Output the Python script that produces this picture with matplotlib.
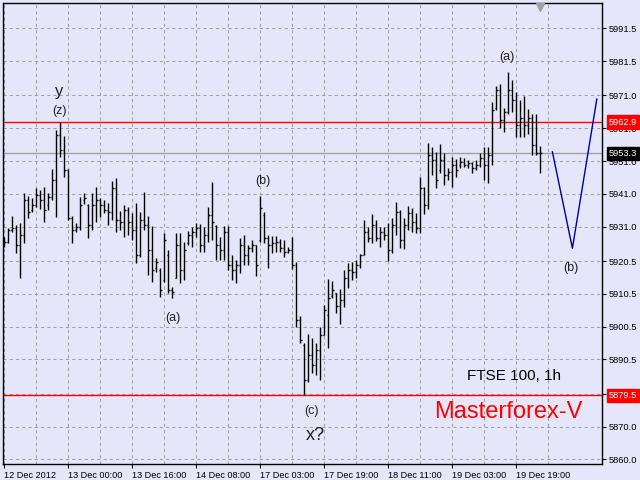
import numpy as np
import matplotlib
matplotlib.use('Agg')
import matplotlib.pyplot as plt
from matplotlib.transforms import blended_transform_factory

# FTSE 100, 1h bars
high = [5927.8, 5930.6, 5934.2, 5931.5, 5932.1, 5941.2, 5940.3, 5939.7, 5942.8, 5942.2,
        5943.1, 5941.2, 5948.6, 5960.5, 5962.9, 5958.6, 5948.6, 5934.2, 5932.1, 5940.0,
        5941.2, 5937.9, 5941.2, 5943.1, 5939.7, 5939.1, 5938.2, 5944.9, 5945.8, 5935.8,
        5937.6, 5937.0, 5935.1, 5938.2, 5935.4, 5941.6, 5934.2, 5931.2, 5921.4, 5918.4,
        5929.0, 5923.9, 5912.6, 5929.0, 5929.0, 5926.3, 5929.7, 5930.9, 5932.1, 5931.8,
        5930.9, 5937.0, 5944.6, 5931.5, 5927.8, 5931.2, 5931.2, 5922.3, 5920.8, 5927.5,
        5928.4, 5925.4, 5926.9, 5925.4, 5940.3, 5935.4, 5928.4, 5928.1, 5928.1, 5927.2,
        5926.9, 5924.8, 5927.8, 5920.2, 5903.7, 5895.5, 5898.2, 5897.0, 5895.5, 5900.4,
        5907.1, 5915.0, 5914.4, 5910.7, 5912.0, 5917.8, 5919.9, 5920.2, 5920.8, 5922.6,
        5933.0, 5930.9, 5934.8, 5933.0, 5930.9, 5930.9, 5932.1, 5933.6, 5938.5, 5936.1,
        5933.6, 5937.3, 5936.7, 5935.1, 5946.1, 5943.1, 5956.5, 5955.3, 5953.7, 5956.2,
        5953.4, 5948.9, 5952.2, 5951.6, 5952.2, 5951.9, 5951.3, 5950.7, 5951.3, 5953.4,
        5955.3, 5955.3, 5969.0, 5973.9, 5974.5, 5967.2, 5978.1, 5975.7, 5972.0, 5969.6,
        5970.8, 5966.9, 5965.3, 5965.3, 5955.6]
low = [5924.8, 5926.0, 5929.3, 5922.9, 5915.3, 5926.0, 5933.6, 5935.4, 5937.0, 5936.4,
       5932.4, 5936.1, 5939.1, 5933.9, 5952.2, 5946.1, 5933.0, 5926.0, 5929.3, 5930.0,
       5937.9, 5927.5, 5930.0, 5932.4, 5933.9, 5935.1, 5931.5, 5933.0, 5929.3, 5930.0,
       5927.8, 5928.4, 5926.9, 5919.9, 5921.7, 5930.0, 5916.2, 5914.1, 5917.1, 5909.5,
       5914.1, 5910.7, 5909.2, 5915.3, 5913.8, 5914.7, 5925.4, 5924.8, 5927.8, 5923.2,
       5923.2, 5926.3, 5926.9, 5920.8, 5920.8, 5920.8, 5917.8, 5914.7, 5913.8, 5916.8,
       5919.3, 5919.3, 5923.2, 5915.9, 5926.3, 5926.0, 5918.4, 5922.9, 5923.2, 5923.2,
       5921.7, 5922.9, 5918.1, 5900.4, 5895.5, 5879.5, 5883.6, 5886.3, 5885.7, 5884.2,
       5897.9, 5894.0, 5909.2, 5904.6, 5901.3, 5906.5, 5912.3, 5914.7, 5915.3, 5918.4,
       5922.3, 5926.3, 5926.0, 5926.6, 5924.8, 5926.9, 5920.5, 5922.9, 5928.4, 5924.5,
       5924.2, 5930.0, 5929.3, 5929.0, 5929.0, 5934.8, 5936.4, 5946.7, 5942.8, 5947.3,
       5943.7, 5945.2, 5943.1, 5946.1, 5948.9, 5949.2, 5948.9, 5947.3, 5948.3, 5949.2,
       5945.2, 5944.3, 5949.8, 5966.6, 5961.1, 5959.9, 5965.3, 5965.9, 5958.3, 5958.3,
       5958.3, 5959.2, 5952.8, 5952.8, 5947.3]
open_ = [5925.4, 5926.3, 5930.0, 5930.6, 5925.4, 5928.4, 5939.1, 5936.1, 5937.6, 5940.6,
         5939.1, 5937.6, 5940.0, 5945.2, 5958.9, 5954.4, 5948.3, 5933.6, 5930.0, 5930.9,
         5939.1, 5937.6, 5931.5, 5937.6, 5939.1, 5937.6, 5936.1, 5935.4, 5942.8, 5933.0,
         5932.4, 5936.1, 5932.4, 5930.0, 5922.3, 5933.0, 5931.5, 5923.9, 5918.4, 5917.8,
         5914.7, 5922.3, 5911.7, 5915.3, 5925.4, 5917.8, 5926.0, 5928.4, 5929.3, 5930.6,
         5925.4, 5928.4, 5934.5, 5931.2, 5925.4, 5923.9, 5929.3, 5919.3, 5917.8, 5919.3,
         5925.4, 5922.3, 5924.5, 5925.4, 5926.9, 5934.5, 5927.5, 5925.4, 5926.0, 5926.3,
         5924.5, 5923.2, 5923.9, 5919.3, 5902.5, 5894.9, 5884.2, 5891.8, 5888.8, 5893.4,
         5897.9, 5904.0, 5909.8, 5910.7, 5906.8, 5908.6, 5915.3, 5917.8, 5917.1, 5919.3,
         5922.3, 5929.3, 5927.5, 5931.5, 5927.5, 5929.3, 5928.4, 5923.9, 5931.5, 5935.4,
         5926.9, 5931.5, 5935.1, 5932.4, 5930.6, 5942.8, 5937.6, 5952.8, 5951.3, 5948.3,
         5951.3, 5946.7, 5947.6, 5949.8, 5949.8, 5950.7, 5949.8, 5950.4, 5948.9, 5949.8,
         5951.9, 5949.8, 5952.8, 5967.2, 5972.7, 5963.5, 5965.9, 5972.7, 5969.6, 5962.0,
         5964.1, 5962.0, 5964.1, 5955.9, 5953.4]
close = [5926.3, 5930.0, 5930.6, 5925.4, 5928.4, 5939.1, 5935.4, 5937.6, 5940.6, 5939.1,
         5936.1, 5940.0, 5945.2, 5958.9, 5954.4, 5948.3, 5933.6, 5930.0, 5930.9, 5937.6,
         5939.7, 5931.5, 5937.6, 5939.1, 5937.6, 5936.1, 5935.4, 5942.8, 5933.0, 5932.4,
         5936.1, 5932.4, 5930.0, 5922.3, 5933.0, 5931.5, 5923.9, 5917.8, 5920.2, 5911.7,
         5926.9, 5911.7, 5911.0, 5925.4, 5917.8, 5923.9, 5928.4, 5929.3, 5930.6, 5925.4,
         5928.4, 5934.5, 5932.4, 5925.4, 5923.9, 5929.3, 5919.3, 5917.8, 5919.3, 5925.4,
         5922.3, 5924.5, 5925.4, 5919.3, 5936.7, 5927.5, 5925.4, 5926.0, 5926.3, 5924.5,
         5923.2, 5923.9, 5919.3, 5902.5, 5896.4, 5884.2, 5891.8, 5888.8, 5893.4, 5897.9,
         5905.6, 5909.2, 5911.7, 5906.8, 5908.6, 5915.3, 5917.8, 5917.1, 5919.3, 5922.3,
         5929.3, 5927.5, 5931.5, 5927.5, 5929.3, 5928.4, 5923.9, 5931.5, 5935.4, 5926.9,
         5931.5, 5935.1, 5932.4, 5930.6, 5942.8, 5937.6, 5952.8, 5951.3, 5945.2, 5951.3,
         5946.7, 5947.6, 5949.8, 5948.3, 5950.7, 5949.8, 5950.4, 5948.9, 5949.8, 5951.9,
         5949.8, 5952.8, 5966.6, 5972.7, 5963.5, 5965.9, 5972.7, 5969.6, 5962.0, 5964.1,
         5962.0, 5964.1, 5955.9, 5953.4, 5953.3]

x_labels = ['12 Dec 2012', '13 Dec 00:00', '13 Dec 16:00', '14 Dec 08:00', '17 Dec 03:00',
            '17 Dec 19:00', '18 Dec 11:00', '19 Dec 03:00', '19 Dec 19:00']
x_label_pos = [0, 16, 32, 48, 64, 80, 96, 112, 128]

y_ticks = [5991.5, 5981.5, 5971.0, 5961.0, 5951.0, 5941.0, 5931.0, 5920.5, 5910.5,
           5900.5, 5890.5, 5880.0, 5870.0, 5860.0]

resist = 5962.9
support = 5879.5
bid = 5953.3

# forecast line (b) wave
proj_x = [137, 142, 148.1]
proj_y = [5953.8, 5924.4, 5969.9]

bg = '#E6E6FA'
plt.rcParams['font.family'] = ['Liberation Sans', 'DejaVu Sans']

fig = plt.figure(figsize=(6.4, 4.8), dpi=100, facecolor=bg)
ax = fig.add_axes([3/640, 16/480, 599/640, 461/480])
ax.set_facecolor(bg)

x = np.arange(len(high))
ax.vlines(x, low, high, colors='black', lw=1.0, zorder=3)
ax.hlines(open_, x - 0.45, x, colors='black', lw=1.0, zorder=3)
ax.hlines(close, x, x + 0.45, colors='black', lw=1.0, zorder=3)

ax.axhline(resist, color='red', lw=1.0, zorder=2)
ax.axhline(support, color='red', lw=1.0, zorder=2)
ax.axhline(bid, color='#a0a0a0', lw=1.0, zorder=1.5)

ax.plot(proj_x, proj_y, color='#0000A0', lw=1.0, zorder=3)

ax.set_xlim(-0.35, 149.4)
ax.set_ylim(5858.6, 5999.2)

ax.yaxis.tick_right()
ax.set_yticks(y_ticks)
ax.set_yticklabels(['%.1f' % v for v in y_ticks])
ax.tick_params(axis='y', length=3, width=0.8, pad=2, labelsize=6.7, colors='black')

ax.set_xticks(x_label_pos)
ax.set_xticklabels(x_labels, ha='left')
ax.set_xticks(np.arange(8, 149, 16), minor=True)
ax.tick_params(axis='x', which='major', length=3, width=0.8, pad=2, labelsize=6.6)
ax.tick_params(axis='x', which='minor', length=0)

ax.grid(True, which='both', color='#a0a0a0', lw=0.75, ls=(0, (3, 3)), zorder=0)
ax.set_axisbelow(True)
for s in ax.spines.values():
    s.set_color('black')
    s.set_linewidth(1.0)

# price boxes on the right
trans = blended_transform_factory(ax.transAxes, ax.transData)
for val, fc in [(resist, 'red'), (support, 'red'), (bid, 'black')]:
    ax.text(1.0115, val, '%.1f' % val, transform=trans, color='white', fontsize=6.7,
            va='center', ha='left', zorder=10, clip_on=False,
            bbox=dict(boxstyle='square,pad=0.25', fc=fc, ec=fc))

# shift marker at top
ax.plot([0.8965], [0.992], marker='v', color='#a0a0a0', markersize=6,
        transform=ax.transAxes, clip_on=False, zorder=5)

# wave labels
lab = dict(textcoords='offset points', ha='center', va='center', color='#202020')
ax.annotate('y', (14, high[14]), xytext=(-1, 22), fontsize=12, **lab)
ax.annotate('(z)', (14, high[14]), xytext=(-1, 8), fontsize=9, **lab)
ax.annotate('(a)', (42, low[42]), xytext=(0, -14), fontsize=9, **lab)
ax.annotate('(b)', (64, high[64]), xytext=(2, 11), fontsize=9, **lab)
ax.annotate('(c)', (75, low[75]), xytext=(5, -11), fontsize=9, **lab)
ax.annotate('x?', (75, low[75]), xytext=(8, -29), fontsize=13, **lab)
ax.annotate('(a)', (126, high[126]), xytext=(-1, 11), fontsize=9, **lab)
ax.annotate('(b)', (proj_x[1], proj_y[1]), xytext=(-1, -14), fontsize=9, **lab)

ax.text(0.853, 0.19, 'FTSE 100, 1h', transform=ax.transAxes, fontsize=11,
        ha='center', va='center', color='black')
ax.text(0.843, 0.113, 'Masterforex-V', transform=ax.transAxes, fontsize=17,
        ha='center', va='center', color='red')

fig.savefig('out.png', dpi=100, facecolor=bg)
